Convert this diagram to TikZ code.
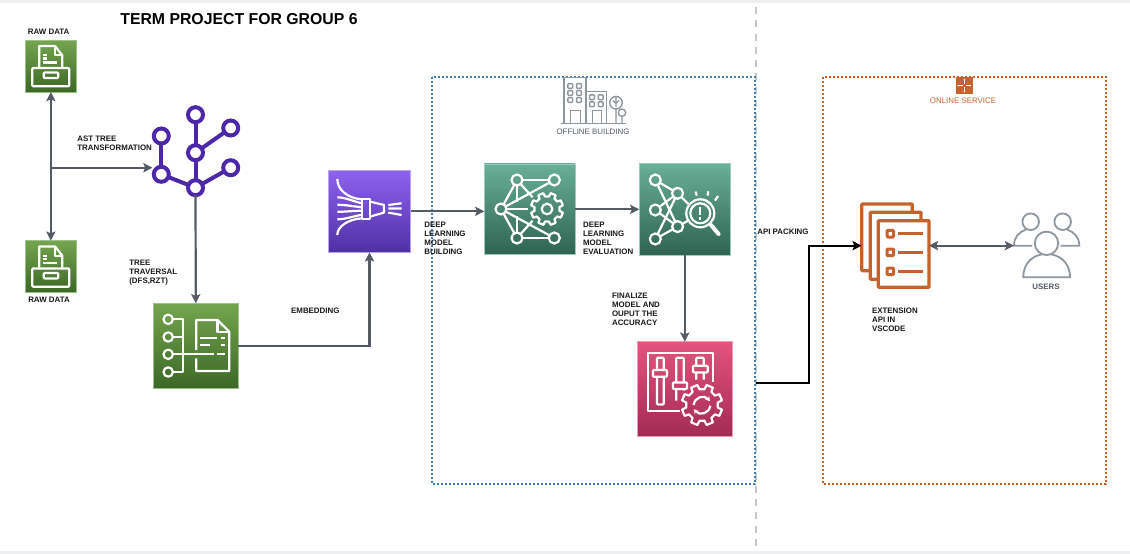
\documentclass[tikz,border=0pt]{standalone}
\usepackage{fontspec}
\setmainfont{Liberation Sans}
\usetikzlibrary{positioning, arrows.meta, calc}

\definecolor{flowgray}{HTML}{545B64}
\definecolor{treeviolet}{HTML}{4D27AA}
\definecolor{apiorange}{HTML}{C7622C}
\definecolor{offblue}{HTML}{3F7FB8}
\definecolor{usergray}{HTML}{8F979E}
\definecolor{bargray}{HTML}{EEEFF2}
\definecolor{rawlight}{HTML}{74A54E}
\definecolor{rawdark}{HTML}{3C6826}
\definecolor{rawedge}{HTML}{9DC088}
\definecolor{funnellight}{HTML}{8E62EE}
\definecolor{funneldark}{HTML}{4F30A6}
\definecolor{funneledge}{HTML}{B9A3EE}
\definecolor{buildlight}{HTML}{69AF97}
\definecolor{builddark}{HTML}{2F6352}
\definecolor{buildedge}{HTML}{9CCBBB}
\definecolor{tunelight}{HTML}{E5537F}
\definecolor{tunedark}{HTML}{A22B55}
\definecolor{tuneedge}{HTML}{EE9DB5}

\newdimen\px
\px=0.02cm

\tikzset{
    flow/.style={draw=flowgray, line width=2.2\px, -{Stealth[length=5.2pt, width=5.2pt, inset=1pt]}},
    flowboth/.style={flow, {Stealth[length=5.2pt, width=5.2pt, inset=1pt]}-{Stealth[length=5.2pt, width=5.2pt, inset=1pt]}},
    blackflow/.style={draw=black, line width=2.2\px, -{Stealth[length=5.2pt, width=5.2pt, inset=1pt]}},
    groupline/.style={line width=2.3\px, dash pattern=on 2.2\px off 1.8\px},
    iconbox/.style={anchor=north west, inner sep=0, outer sep=0, line width=0.3pt},
    greenbox/.style={iconbox, draw=rawedge, top color=rawlight, bottom color=rawdark},
    tealbox/.style={iconbox, draw=buildedge, top color=buildlight, bottom color=builddark},
    glyph/.style={draw=white, line width=2.2\px, line join=round},
    netdot/.style={glyph, circle, inner sep=0, outer sep=0, minimum size=11\px},
    treedot/.style={circle, draw=treeviolet, fill=white, line width=4\px, inner sep=0, outer sep=0, minimum size=15\px},
    treelink/.style={draw=treeviolet, line width=4\px},
    pagesheet/.style={draw=apiorange, fill=white, line width=3.3\px, rounded corners=0.5pt},
    person/.style={draw=usergray, fill=white, line width=1.8\px},
    buildingline/.style={draw=usergray, line width=1.4\px},
    smalltext/.style={font=\fontsize{4.5}{5.1}\selectfont\bfseries, text=black!90, align=left, inner sep=0, anchor=west},
    grouptext/.style={font=\fontsize{4.5}{5.1}\selectfont, inner sep=0},
    gear/.pic={
        \draw[glyph] (9:#1) \foreach \t in {0,45,...,315} {
            -- (\t+9:#1) -- (\t+13:#1*1.28) -- (\t+32:#1*1.28) -- (\t+36:#1)
        } -- cycle;
    },
    rawglyph/.pic={
        \draw[glyph] (14.3,26.7) -- (14.3,5.7) -- (30,5.7) -- (37.3,15) -- (37.3,26.7);
        \draw[glyph] (30,5.7) -- (30,15) -- (37.3,15);
        \draw[glyph] (18.3,15) -- (21.7,15) (18.3,18.3) -- (21.7,18.3) (18.3,22.3) -- (32.3,22.3);
        \draw[glyph, rounded corners=0.5pt] (7.3,27.7) rectangle (44.3,46);
        \draw[glyph, rounded corners=0.5pt] (18.7,32.3) rectangle (33.3,37.7);
    },
}

\begin{document}
\begin{tikzpicture}[x=0.02cm, y=-0.02cm]
    \useasboundingbox (0,0) rectangle (1130,554);
    \fill[bargray] (0,0) rectangle (1130,3.5);
    \fill[bargray] (0,551) rectangle (1130,554);
    \draw[black!22, line width=2.5\px, dash pattern=on 7\px off 6.3\px] (756,7) -- (756,551);

    % the two groups
    \draw[offblue, groupline] (432,77) rectangle (755,484);
    \draw[apiorange, groupline] (823,77) rectangle (1106,484);

    \node (titleText) [font=\fontsize{9}{10}\selectfont\bfseries, inner sep=0, anchor=west] at (120,19.5) {TERM PROJECT FOR GROUP 6};

    % raw data
    \node (rawTop) [greenbox, minimum size=51.7\px] at (25,40.3) {};
    \node (rawBottom) [greenbox, minimum size=51.7\px] at (25,240.7) {};
    \pic at (rawTop.north west) {rawglyph};
    \pic at (rawBottom.north west) {rawglyph};
    \node (rawTopText) [smalltext, anchor=center] at (48.7,32) {RAW DATA};
    \node (rawBottomText) [smalltext, anchor=center] at (49,299.5) {RAW DATA};

    % tree icon
    \node (treeRoot) [treedot] at (195.5,187.7) {};
    \node (treeLow) [treedot] at (161.3,174.3) {};
    \node (treeLeft) [treedot] at (161.3,136) {};
    \node (treeMid) [treedot] at (195.5,152.7) {};
    \node (treeTop) [treedot] at (195.5,114.7) {};
    \node (treeUp) [treedot] at (230.7,128) {};
    \node (treeSide) [treedot] at (230.7,167.7) {};
    \foreach \p/\q in {treeRoot/treeLow, treeLow/treeLeft, treeRoot/treeMid, treeMid/treeTop, treeMid/treeUp, treeRoot/treeSide}
        \draw[treelink] (\p) -- (\q);
    \node (astText) [smalltext] at (77,143.5) {AST TREE\\TRANSFORMATION};
    \node (traversalText) [smalltext] at (129,273) {TREE\\TRAVERSAL\\(DFS,RZT)};

    \coordinate (rawJoin) at (50.85,167.7);
    \coordinate (treeIn) at (152.5,167.7);
    \draw[flowboth] (rawTop.south) -- (rawBottom.north);
    \draw[flow] (rawJoin) -- (treeIn);

    % traversal document
    \node (docBox) [greenbox, minimum size=84.6\px] at (153.5,303.3) {};
    \begin{scope}[shift={(docBox.north west)}]
        \foreach \y in {16,33.7,51,68.7}
            \draw[glyph] (14.7,\y) circle (4.7);
        \draw[glyph] (19.4,16) -- (29.3,16) -- (29.3,68.7) -- (19.4,68.7) (19.4,33.7) -- (29.3,33.7);
        \draw[glyph] (19.4,51) -- (60,51) (63.3,51) -- (71,51);
        \draw[glyph] (42.7,46.7) -- (42.7,16.7) -- (64,16.7) -- (75.7,28.3) -- (75.7,67.7) -- (42.7,67.7) -- (42.7,55);
        \draw[glyph] (64,16.7) -- (64,28.3) -- (75.7,28.3);
        \draw[glyph] (46.7,34.7) -- (63.3,34.7) (67.3,34.7) -- (71,34.7) (46.7,41.3) -- (56.7,41.3) (67.3,41.3) -- (71,41.3);
    \end{scope}
    \draw[flow] (treeRoot.south) -- (docBox.north);
    \node (embedText) [smalltext, anchor=center] at (315.3,311) {EMBEDDING};

    % funnel
    \node (funnelBox) [iconbox, draw=funneledge, top color=funnellight, bottom color=funneldark, minimum width=82.4\px, minimum height=82\px] at (328.3,170.3) {};
    \begin{scope}[shift={(funnelBox.north west)}]
        \draw[glyph] (9,8.7) .. controls (9,20) and (20,28) .. (33.3,29);
        \draw[glyph] (9,64.7) .. controls (9,56) and (20,49) .. (33.3,48);
        \draw[glyph] (9,27) .. controls (17,27) and (25,31) .. (33.3,33);
        \draw[glyph] (9,34.5) .. controls (17,34.5) and (25,36) .. (33.3,37);
        \draw[glyph] (9,41.5) .. controls (17,41.5) and (25,40.5) .. (33.3,40.5);
        \draw[glyph] (9,49) .. controls (17,49) and (25,46) .. (33.3,44.5);
        \draw[glyph] (34,29) rectangle (41.7,48.7);
        \draw[glyph] (41.7,31.3) -- (55.7,34.7) -- (55.7,42.3) -- (41.7,46.3);
        \draw[glyph] (60,34.7) -- (73.3,33) (60,38.3) -- (73.3,38.3) (60,42.3) -- (73.3,44.7);
    \end{scope}
    \draw[flow] (docBox.east) -| (funnelBox.south);

    % offline building
    \draw[buildingline] (561,123.3) -- (626,123.3);
    \draw[buildingline] (564,123.3) -- (564,77.7) -- (586,77.7) -- (586,123.3) (586,91.7) -- (606.7,91.7) -- (606.7,123.3);
    \foreach \x/\y in {570.3/86, 579/86, 570.3/93, 579/93, 570.3/100, 579/100, 592/97.3, 600.7/97.3, 592/104.3, 600.7/104.3}
        \draw[buildingline, rounded corners=0.5pt] (\x-2.4,\y-2.4) rectangle (\x+2.4,\y+2.4);
    \draw[buildingline] (570.7,123.3) -- (570.7,110.7) -- (580.3,110.7) -- (580.3,123.3);
    \draw[buildingline] (592.3,123.3) -- (592.3,110.7) -- (601.7,110.7) -- (601.7,123.3);
    \draw[buildingline] (616,102.7) circle (6.3) (616,109) -- (616,123.3) (616,97.5) -- (616,107) (613,100.5) -- (616,103.5) -- (619,100.5);
    \draw[buildingline] (622,112.7) circle (3.7) (622,116.4) -- (622,123.3);
    \node (offlineText) [grouptext, text=flowgray] at (593,132) {OFFLINE BUILDING};

    % model building
    \node (buildBox) [tealbox, minimum width=90.7\px, minimum height=90.7\px] at (484.3,164) {};
    \begin{scope}[shift={(buildBox.north west)}]
        \node (buildA) [netdot] at (32.7,16) {};
        \node (buildB) [netdot] at (70,16) {};
        \node (buildC) [netdot] at (16.7,45) {};
        \node (buildD) [netdot] at (32.7,74) {};
        \node (buildE) [netdot] at (70,74) {};
        \foreach \p/\q in {buildA/buildB, buildA/buildC, buildC/buildD, buildD/buildE}
            \draw[glyph] (\p) -- (\q);
        \draw[glyph] (buildC) -- (43.3,45);
        \draw[glyph] (buildA) -- (32.7,38) (buildD) -- (32.7,52);
        \draw[glyph] (buildB) -- (buildC) (buildA) -- (48.3,33.3);
        \draw[glyph] (buildE) -- (buildC) (buildD) -- (48.3,56.7);
        \pic[shift={(62.7,45)}] {gear=12.7};
        \draw[glyph] (62.7,45) circle (5.3);
    \end{scope}
    \node (buildText) [smalltext] at (424,238.5) {DEEP\\LEARNING\\MODEL\\BUILDING};
    \draw[flow] (funnelBox.east) -- (buildBox.west |- funnelBox.east);

    % model evaluation
    \node (evalBox) [tealbox, minimum width=91\px, minimum height=91.7\px] at (639.3,163.3) {};
    \begin{scope}[shift={(evalBox.north west)}]
        \node (evalA) [netdot] at (16,16.7) {};
        \node (evalB) [netdot] at (38.3,30) {};
        \node (evalC) [netdot] at (16,46.7) {};
        \node (evalD) [netdot] at (38.3,63.3) {};
        \node (evalE) [netdot] at (16,75.7) {};
        \foreach \p/\q in {evalA/evalB, evalA/evalD, evalB/evalC, evalB/evalE, evalC/evalD, evalD/evalE}
            \draw[glyph] (\p) -- (\q);
        \draw[glyph] (evalB) -- (50,41.7) (evalD) -- (50,56.7);
        \draw[glyph] (61,50) circle (14) (61,50) circle (10);
        \draw[glyph, line width=4\px, line cap=round] (71.7,61.7) -- (79.3,70.7);
        \draw[glyph] (61,44) -- (61,51.5) (61,54) -- (61,56.5);
        \draw[glyph] (56,28.3) -- (57.7,32.3) (69,28) -- (68.3,32.3) (78.7,32.7) -- (75.7,37.3);
    \end{scope}
    \node (evalText) [smalltext] at (582.7,238.5) {DEEP\\LEARNING\\MODEL\\EVALUATION};
    \draw[flow] (buildBox.east) -- (evalBox.west |- buildBox.east);

    % tuning
    \node (tuneBox) [iconbox, draw=tuneedge, top color=tunelight, bottom color=tunedark, minimum width=95.6\px, minimum height=94.3\px] at (637,341.7) {};
    \begin{scope}[shift={(tuneBox.north west)}]
        \draw[glyph] (76,40) -- (76,11) -- (11,11) -- (11,69.3) -- (42.7,69.3);
        \draw[glyph, rounded corners=0.5pt] (20,28.3) -- (20,16) -- (26.7,16) -- (26.7,28.3) (20,35) -- (20,62.7) -- (26.7,62.7) -- (26.7,35);
        \draw[glyph, rounded corners=0.5pt] (16,28.3) rectangle (30,35);
        \draw[glyph, rounded corners=0.5pt] (39.3,40.7) -- (39.3,16) -- (46.7,16) -- (46.7,40.7) (39.3,47.3) -- (39.3,59) (46.7,47.3) -- (46.7,49);
        \draw[glyph, rounded corners=0.5pt] (36,40.7) rectangle (50,47.3);
        \draw[glyph, rounded corners=0.5pt] (59.3,24) -- (59.3,16) -- (66.7,16) -- (66.7,24) (59.3,30.7) -- (59.3,38) (66.7,30.7) -- (66.7,38);
        \draw[glyph, rounded corners=0.5pt] (56,24) rectangle (70.7,30.7);
        \pic[shift={(65,63.3)}] {gear=16};
        \draw[glyph, -{Stealth[length=2.6pt, width=3pt]}] (56.7,63.3) .. controls (57.5,55.5) and (67,52.5) .. (73,59.5);
        \draw[glyph, -{Stealth[length=2.6pt, width=3pt]}] (73.3,64) .. controls (72.5,71.5) and (62.5,74.5) .. (57,67.5);
    \end{scope}
    \node (tuneText) [smalltext] at (611.7,309.5) {FINALIZE\\MODEL AND\\OUPUT THE\\ACCURACY};
    \draw[flow] (evalBox.south) -- (tuneBox.north);

    % online service
    \node (onlineTag) [iconbox, fill=apiorange, minimum size=16.7\px] at (956,77.3) {};
    \begin{scope}[shift={(onlineTag.center)}]
        \draw[white, line width=0.5\px] (-5.5,0) -- (-1.5,0) (1.5,0) -- (5.5,0) (0,-5.5) -- (0,-1.5) (0,1.5) -- (0,5.5);
        \fill[white] (-6,0) circle (0.8) (6,0) circle (0.8) (0,-6) circle (0.8) (0,6) circle (0.8);
    \end{scope}
    \node (onlineText) [grouptext, text=apiorange] at (963,101) {ONLINE SERVICE};

    % extension api
    \node (apiIcon) [iconbox, minimum width=67.3\px, minimum height=83.3\px] at (861.7,204) {};
    \draw[pagesheet] (861.7,204) rectangle (912.3,270.7);
    \draw[pagesheet] (870.3,212.3) rectangle (921,279.3);
    \draw[pagesheet] (878.3,220.7) rectangle (929,287.3);
    \foreach \y in {233.7,252.3,271.3} {
        \draw[apiorange, line width=3\px, rounded corners=0.5pt] (887,\y-3.3) rectangle (893.6,\y+3.3);
        \draw[apiorange, line width=2.5\px] (898.3,\y) -- (923.3,\y);
    }
    \node (apiText) [smalltext] at (871.7,320) {EXTENSION\\API IN\\VSCODE};

    % users
    \node (usersIcon) [inner sep=0, outer sep=0, minimum width=65.3\px, minimum height=64\px] at (1046.65,245.65) {};
    \draw[person] (1032,245.7) -- (1014,245.7) .. controls (1014,237) and (1019,232) .. (1026,229.5);
    \draw[person] (1060.7,245.7) -- (1079.3,245.7) .. controls (1079.3,237) and (1074,232) .. (1067,229.5);
    \draw[person] (1030.7,221.7) circle (8.3);
    \draw[person] (1062.7,221.7) circle (8.3);
    \draw[person] (1023.3,277.3) .. controls (1023.3,262) and (1034,254) .. (1046.5,254) .. controls (1059,254) and (1070,262) .. (1070,277.3) -- cycle;
    \draw[person] (1046.5,243.3) circle (11.7);
    \node (usersText) [smalltext, text=flowgray, anchor=center] at (1046,287) {USERS};

    % connectors of the service side
    \coordinate (apiStart) at (756,383.3);
    \draw[blackflow] (apiStart) -- ++(53,0) |- (apiIcon.west);
    \draw[flowboth] (apiIcon.east) -- (usersIcon.west);
    \node (packingText) [smalltext] at (757,232) {API PACKING};
\end{tikzpicture}
\end{document}
